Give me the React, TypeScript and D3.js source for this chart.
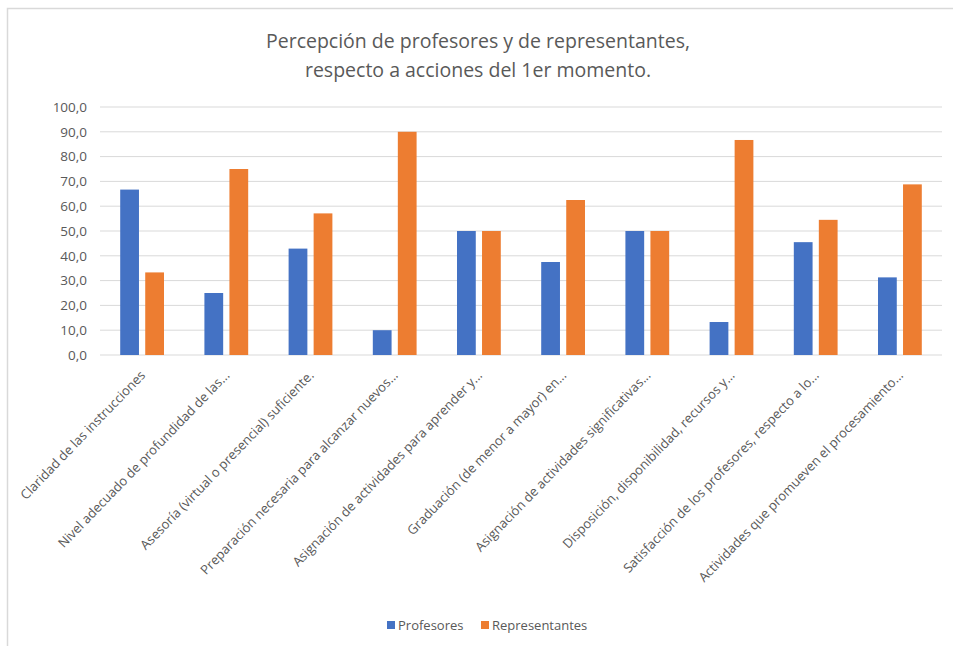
import React, { useEffect } from "react";
import * as d3 from "d3";

const categories = [
  "Claridad de las instrucciones",
  "Nivel adecuado de profundidad de las...",
  "Asesoría (virtual o presencial) suficiente.",
  "Preparación necesaria para alcanzar nuevos...",
  "Asignación de actividades para aprender y...",
  "Graduación (de menor a mayor) en...",
  "Asignación de actividades significativas...",
  "Disposición, disponibilidad, recursos y...",
  "Satisfacción de los profesores, respecto a lo...",
  "Actividades que promueven el procesamiento...",
];

const profesores = [66.7, 25.0, 42.9, 10.0, 50.0, 37.5, 50.0, 13.3, 45.5, 31.3];
const representantes = [33.3, 75.0, 57.1, 90.0, 50.0, 62.5, 50.0, 86.7, 54.5, 68.8];

const seriesNames = ["Profesores", "Representantes"];
const seriesColors = ["#4472C4", "#ED7D31"];
const yTicks = [0, 10, 20, 30, 40, 50, 60, 70, 80, 90, 100];

const titleLines = [
  "Percepción de profesores y de representantes,",
  "respecto a acciones del 1er momento.",
];

const W = 953;
const H = 646;
const FONT = "'Open Sans', sans-serif";
const TEXT = "#595959";

export default function App() {
  useEffect(() => {
    document.body.style.margin = "0";
  }, []);

  const plotLeft = 100;
  const plotRight = 942;
  const plotTop = 107;
  const plotBottom = 355;

  const x = d3
    .scaleBand<string>()
    .domain(categories)
    .range([plotLeft, plotRight])
    .paddingInner(0.48)
    .paddingOuter(0.24);

  // two bars per group with a visible gap between them
  const xSub = d3
    .scaleBand<string>()
    .domain(seriesNames)
    .range([0, x.bandwidth()])
    .paddingInner(0.25)
    .paddingOuter(0);

  const y = d3.scaleLinear().domain([0, 100]).range([plotBottom, plotTop]);

  const series = [profesores, representantes];
  const fmt = (v: number) => v.toFixed(1).replace(".", ",");

  return (
    <svg width={W} height={H} style={{ display: "block", background: "#fff" }}>
      {/* chart frame */}
      <rect x={7.5} y={8.5} width={1000} height={700} fill="#fff" stroke="#d9d9d9" strokeWidth={1.5} />

      {/* title */}
      {titleLines.map((t, i) => (
        <text
          key={i}
          x={478}
          y={48 + i * 29}
          textAnchor="middle"
          fill={TEXT}
          style={{ fontFamily: FONT, fontSize: "19.5px" }}
        >
          {t}
        </text>
      ))}

      {/* grid */}
      <g>
        {yTicks.map((t) => (
          <line
            key={t}
            x1={plotLeft}
            x2={plotRight}
            y1={y(t)}
            y2={y(t)}
            stroke="#d9d9d9"
            strokeWidth={1}
          />
        ))}
      </g>

      {/* y axis labels */}
      <g>
        {yTicks.map((t) => (
          <text
            key={t}
            x={87}
            y={y(t)}
            dy="0.35em"
            textAnchor="end"
            fill={TEXT}
            style={{ fontFamily: FONT, fontSize: "13.5px" }}
          >
            {fmt(t)}
          </text>
        ))}
      </g>

      {/* bars */}
      {series.map((vals, si) => (
        <g key={si} fill={seriesColors[si]}>
          {categories.map((c, ci) => (
            <rect
              key={c}
              x={(x(c) ?? 0) + (xSub(seriesNames[si]) ?? 0)}
              y={y(vals[ci])}
              width={xSub.bandwidth()}
              height={y(0) - y(vals[ci])}
            />
          ))}
        </g>
      ))}

      {/* x labels */}
      <g>
        {categories.map((c) => {
          const cx = (x(c) ?? 0) + x.bandwidth() / 2 + 4;
          const cy = 376;
          return (
            <text
              key={c}
              transform={`translate(${cx},${cy}) rotate(-46)`}
              textAnchor="end"
              fill={TEXT}
              style={{ fontFamily: FONT, fontSize: "13px" }}
            >
              {c}
            </text>
          );
        })}
      </g>

      {/* legend */}
      <g>
        {[387, 481].map((lx, i) => (
          <g key={i} transform={`translate(${lx},621)`}>
            <rect width={8} height={8} fill={seriesColors[i]} />
            <text
              x={11}
              y={9}
              fill={TEXT}
              style={{ fontFamily: FONT, fontSize: "13px" }}
            >
              {seriesNames[i]}
            </text>
          </g>
        ))}
      </g>
    </svg>
  );
}
